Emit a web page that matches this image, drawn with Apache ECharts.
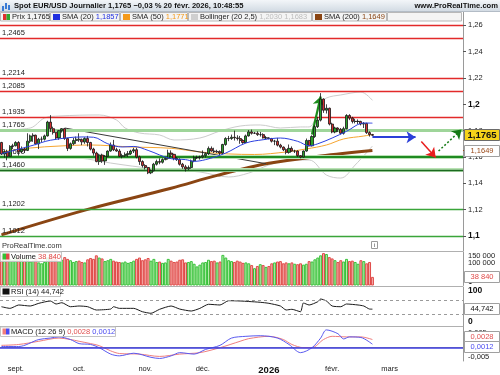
<!DOCTYPE html>
<html><head><meta charset="utf-8">
<script src="https://cdn.jsdelivr.net/npm/echarts@6.0.0/dist/echarts.min.js"></script>
<style>html,body{margin:0;padding:0;background:#fff;overflow:hidden}#c{width:500px;height:375px}</style>
</head><body><div id="c"></div>
<script>
// ================= DATA =================
// daily candles [open, close, low, high], 25 Aug 2025 -> 20 Feb 2026
const ohlc = [
[1.1710,1.1622,1.1615,1.1715],[1.1622,1.1640,1.1595,1.1650],[1.1640,1.1605,1.1575,1.1655],[1.1605,1.1680,1.1600,1.1690],[1.1680,1.1685,1.1660,1.1700],
[1.1685,1.1710,1.1680,1.1720],[1.1710,1.1640,1.1610,1.1720],[1.1640,1.1660,1.1630,1.1680],[1.1660,1.1650,1.1630,1.1670],[1.1650,1.1720,1.1645,1.1780],
[1.1720,1.1760,1.1705,1.1770],[1.1760,1.1765,1.1715,1.1780],[1.1765,1.1700,1.1690,1.1770],[1.1700,1.1735,1.1660,1.1745],[1.1735,1.1735,1.1710,1.1755],
[1.1735,1.1760,1.1725,1.1770],[1.1760,1.1865,1.1755,1.1875],[1.1865,1.1815,1.1790,1.1918],[1.1815,1.1785,1.1770,1.1830],[1.1785,1.1745,1.1730,1.1790],
[1.1745,1.1800,1.1730,1.1805],[1.1800,1.1815,1.1785,1.1820],[1.1815,1.1740,1.1730,1.1820],[1.1740,1.1665,1.1645,1.1745],[1.1665,1.1700,1.1655,1.1710],
[1.1700,1.1725,1.1690,1.1745],[1.1725,1.1735,1.1700,1.1755],
[1.1735,1.1730,1.1715,1.1780],[1.1730,1.1715,1.1690,1.1740],[1.1715,1.1740,1.1700,1.1750],[1.1740,1.1710,1.1680,1.1760],[1.1710,1.1660,1.1650,1.1715],
[1.1660,1.1630,1.1610,1.1670],[1.1630,1.1565,1.1560,1.1640],[1.1565,1.1615,1.1540,1.1625],[1.1615,1.1570,1.1555,1.1625],[1.1570,1.1605,1.1540,1.1615],
[1.1605,1.1645,1.1600,1.1650],[1.1645,1.1690,1.1640,1.1710],[1.1690,1.1655,1.1645,1.1730],[1.1655,1.1645,1.1640,1.1670],[1.1645,1.1605,1.1600,1.1660],
[1.1605,1.1610,1.1590,1.1625],[1.1610,1.1620,1.1600,1.1635],[1.1620,1.1625,1.1600,1.1645],[1.1625,1.1645,1.1615,1.1655],[1.1645,1.1655,1.1630,1.1670],
[1.1655,1.1600,1.1590,1.1670],[1.1600,1.1565,1.1540,1.1610],[1.1565,1.1535,1.1520,1.1575],
[1.1535,1.1520,1.1505,1.1545],[1.1520,1.1480,1.1470,1.1525],[1.1480,1.1495,1.1470,1.1505],[1.1495,1.1545,1.1490,1.1555],[1.1545,1.1565,1.1535,1.1580],
[1.1565,1.1560,1.1545,1.1590],[1.1560,1.1580,1.1550,1.1590],[1.1580,1.1590,1.1575,1.1600],[1.1590,1.1630,1.1580,1.1655],[1.1630,1.1620,1.1600,1.1650],
[1.1620,1.1590,1.1575,1.1625],[1.1590,1.1580,1.1570,1.1600],[1.1580,1.1545,1.1535,1.1590],[1.1545,1.1525,1.1510,1.1555],[1.1525,1.1510,1.1490,1.1540],
[1.1510,1.1520,1.1500,1.1535],[1.1520,1.1570,1.1510,1.1580],[1.1570,1.1595,1.1560,1.1610],[1.1595,1.1595,1.1585,1.1610],[1.1595,1.1600,1.1580,1.1610],
[1.1600,1.1610,1.1590,1.1650],[1.1610,1.1625,1.1595,1.1635],[1.1625,1.1665,1.1615,1.1680],[1.1665,1.1645,1.1640,1.1680],[1.1645,1.1640,1.1630,1.1670],
[1.1640,1.1640,1.1630,1.1655],[1.1640,1.1630,1.1615,1.1650],[1.1630,1.1695,1.1620,1.1700],[1.1695,1.1740,1.1685,1.1750],[1.1740,1.1740,1.1720,1.1760],
[1.1740,1.1750,1.1730,1.1770],[1.1750,1.1745,1.1725,1.1800],[1.1745,1.1740,1.1725,1.1765],[1.1740,1.1725,1.1700,1.1760],[1.1725,1.1710,1.1700,1.1735],
[1.1710,1.1760,1.1705,1.1770],[1.1760,1.1790,1.1755,1.1805],[1.1790,1.1780,1.1770,1.1808],[1.1780,1.1780,1.1775,1.1790],[1.1780,1.1770,1.1760,1.1795],
[1.1770,1.1770,1.1755,1.1790],[1.1770,1.1745,1.1740,1.1780],[1.1745,1.1745,1.1735,1.1760],
[1.1745,1.1740,1.1735,1.1750],[1.1740,1.1720,1.1710,1.1745],[1.1720,1.1720,1.1690,1.1730],[1.1720,1.1690,1.1680,1.1745],[1.1690,1.1675,1.1665,1.1700],
[1.1675,1.1655,1.1645,1.1680],[1.1655,1.1635,1.1620,1.1665],[1.1635,1.1665,1.1625,1.1695],[1.1665,1.1645,1.1640,1.1680],[1.1645,1.1645,1.1630,1.1655],
[1.1645,1.1610,1.1600,1.1650],[1.1610,1.1600,1.1590,1.1615],[1.1600,1.1645,1.1595,1.1650],[1.1645,1.1725,1.1640,1.1740],[1.1725,1.1685,1.1680,1.1730],
[1.1685,1.1755,1.1680,1.1765],[1.1755,1.1830,1.1745,1.1840],[1.1830,1.1880,1.1820,1.1905],[1.1880,1.2040,1.1870,1.2085],[1.2040,1.1955,1.1935,1.2045],
[1.1955,1.1970,1.1930,1.2000],[1.1970,1.1850,1.1840,1.1975],
[1.1850,1.1790,1.1780,1.1860],[1.1790,1.1820,1.1780,1.1830],[1.1820,1.1810,1.1790,1.1825],[1.1810,1.1780,1.1770,1.1820],[1.1780,1.1815,1.1770,1.1830],
[1.1815,1.1915,1.1810,1.1925],[1.1915,1.1895,1.1880,1.1925],[1.1895,1.1870,1.1855,1.1905],[1.1870,1.1870,1.1855,1.1890],[1.1870,1.1870,1.1850,1.1885],
[1.1870,1.1850,1.1840,1.1875],[1.1850,1.1855,1.1820,1.1865],[1.1855,1.1785,1.1775,1.1860],[1.1785,1.1770,1.1755,1.1795],[1.1770,1.1765,1.1760,1.1775]
];
// volume (units)
const volume = [
135000,124000,130000,118000,114000,
128000,134000,118000,112000,126000,108000,112000,120000,104000,100000,106000,126000,142000,132000,118000,110000,116000,128000,120000,114000,106000,110000,
112000,106000,104000,118000,124000,120000,136000,126000,122000,110000,114000,120000,112000,108000,106000,104000,108000,102000,106000,112000,120000,126000,114000,
118000,124000,112000,120000,106000,108000,102000,104000,120000,112000,106000,108000,116000,118000,104000,106000,110000,98000,86000,94000,
104000,106000,116000,110000,112000,104000,108000,138000,126000,114000,110000,106000,112000,108000,102000,104000,100000,92000,78000,88000,96000,92000,84000,
88000,100000,104000,108000,110000,100000,104000,100000,104000,98000,96000,100000,94000,98000,110000,108000,118000,126000,136000,146000,142000,128000,
122000,114000,106000,114000,108000,120000,110000,112000,106000,98000,114000,110000,100000,106000,38840
];
// indicator lines: [bar index, value]
const sma20 = [[0,1.1625],[11,1.1689],[17,1.1727],[28,1.1752],[32,1.1750],[37,1.1700],[42,1.1676],[46,1.1680],[51,1.1650],[59,1.1587],[64,1.1580],[67,1.1567],[71,1.1580],[78,1.1630],[85,1.1706],[91,1.1731],[97,1.1744],[103,1.1719],[107,1.1685],[110,1.1700],[115,1.1744],[120,1.1795],[126,1.1858],[129,1.1857]];
const sma50 = [[0,1.1638],[10,1.1668],[20,1.1683],[31,1.1691],[45,1.1676],[59,1.1666],[69,1.1638],[79,1.1623],[88,1.1619],[99,1.1638],[106,1.1661],[113,1.1691],[119,1.1737],[126,1.1759],[129,1.1771]];
const sma200 = [[0,1.1008],[30,1.1202],[59,1.1362],[75,1.1460],[93,1.1552],[111,1.1607],[129,1.1649]];
const bollUpper = [[0,1.1805],[10,1.1820],[15,1.1896],[20,1.1911],[34,1.1919],[40,1.1881],[43,1.1820],[48,1.1782],[55,1.1767],[60,1.1729],[69,1.1744],[76,1.1797],[83,1.1835],[90,1.1843],[97,1.1820],[104,1.1828],[107,1.1828],[111,1.2000],[113,1.2048],[118,1.2071],[125,1.2093],[129,1.2030]];
const bollLower = [[0,1.1615],[13,1.1600],[27,1.1592],[38,1.1554],[48,1.1524],[59,1.1501],[69,1.1486],[79,1.1448],[86,1.1478],[93,1.1539],[100,1.1577],[107,1.1577],[113,1.1463],[118,1.1440],[123,1.1539],[129,1.1683]];
const trendLine = [[22,1.1820],[92,1.1549]];
const rsi = [[0,51.7],[3,47],[6,56.6],[10,53.7],[13,61.4],[17,68],[19,59.4],[21,63.1],[24,51.7],[27,53.7],[30,51.7],[33,42.3],[38,45],[39,51.7],[41,47],[46,47],[49,37.4],[52,32.9],[55,44.3],[59,53.7],[62,45],[66,39.4],[69,47],[72,58.6],[76,56.6],[79,68.9],[83,68],[86,66.6],[90,64.3],[93,61.4],[97,53.7],[99,42.3],[101,44.3],[104,37.4],[105,62.3],[107,56.6],[110,66],[111,73.7],[113,68],[115,53.7],[118,51.7],[120,59.4],[124,56.6],[126,53.7],[128,45],[129,44.742]];
const macdLine = [[0,0.0004],[6,0.0004],[13,0.0028],[17,0.0033],[20,0.0037],[24,0.0028],[27,0.0014],[31,0.0011],[34,0],[38,-0.0022],[41,-0.0028],[46,-0.0019],[52,-0.0033],[55,-0.0037],[59,-0.0028],[62,-0.0017],[67,-0.0022],[71,-0.0006],[76,0.0008],[80,0.0033],[85,0.0039],[90,0.0041],[96,0.0033],[100,0.0011],[104,-0.0017],[108,0],[111,0.0033],[113,0.0061],[117,0.0048],[119,0.0030],[121,0.0037],[125,0.0035],[129,0.0012]];
const macdSignal = [[0,0.0008],[6,0.0011],[13,0.0022],[20,0.0033],[24,0.0028],[27,0.0022],[31,0.0014],[34,0.0007],[38,-0.0011],[41,-0.0020],[48,-0.0022],[55,-0.0030],[62,-0.0022],[69,-0.0017],[76,0],[83,0.0022],[86,0.0031],[93,0.0039],[98,0.0028],[101,0.0011],[105,0],[108,0],[112,0.0028],[115,0.0039],[120,0.0037],[125,0.0037],[129,0.0028]];
// drawn annotations: [bar index, price]
const arrowBlue = [[129,1.1750],[144,1.1750]];
const arrowRed = [[146,1.1718],[151,1.1596]];
const arrowGreen = [[152,1.1645],[160,1.1809]];
const arrowPeak = [[108,1.1770],[111,1.2060]];
// horizontal levels
const redLevels = [1.2620,1.2465,1.2214,1.2085,1.1935];
const greenLevels = [1.1765,1.1600,1.1460,1.1202,1.1012];
const greenKinds = ['light','dark','dark2','mid','mid'];
// axes
const priceTicks = [1.1,1.12,1.14,1.16,1.18,1.2,1.22,1.24,1.26];
const volTicks = [0,100000,150000];
const rsiTicks = [0,100];
const rsiBands = [30,70];
const macdTicks = [-0.005,0.005];
const monthLabels = ['sept.','oct.','nov.','déc.','2026','févr.','mars'];
const lastValues = {price:1.1765, sma20:1.1857, sma50:1.1771, bollUp:1.2030, bollLow:1.1683, sma200:1.1649, volume:38840, rsi:44.742, macd:0.0012, signal:0.0028};

// ================= BUILD =================
const NSLOT = 161;
const dates = [];
{ let d = new Date(Date.UTC(2025,7,25));
  while (dates.length < NSLOT) { const w = d.getUTCDay(); if (w > 0 && w < 6) dates.push(d.toISOString().slice(0,10)); d.setUTCDate(d.getUTCDate()+1); } }
const monthIdx = [];
for (let i = 1; i < dates.length; i++) if (dates[i].slice(5,7) !== dates[i-1].slice(5,7)) monthIdx.push(i);

const FONT = "'Liberation Sans',Arial,sans-serif";
const FS = 7.5;
const fr = (v, n) => v.toFixed(n).replace('.', ',');
const spaced = v => String(Math.round(v)).replace(/\B(?=(\d{3})+(?!\d))/g, ' ');

const G = [
  {left:0, top:12, width:463, height:239},
  {left:0, top:252, width:463, height:33.5},
  {left:0, top:287, width:463, height:39},
  {left:0, top:326.5, width:463, height:35.5}
];
const Y = [
  {min:1.0886, max:1.2701},
  {min:0, max:151000},
  {min:-3.4, max:108},
  {min:-0.004567, max:0.007267}
];
function clampTicks(vals, gi, half) {
  const g = G[gi], y = Y[gi], ppu = g.height / (y.max - y.min);
  const lo = y.min + half / ppu, hi = y.max - half / ppu;
  return vals.map(v => ({pos: Math.min(hi, Math.max(lo, v)), v}));
}
const volT = clampTicks(volTicks, 1, 3.5), rsiT = clampTicks(rsiTicks, 2, 4), macdT = clampTicks(macdTicks, 3, 4.5);
function labelFor(list, val, fmt) { let best = list[0]; list.forEach(t => { if (Math.abs(t.pos - val) < Math.abs(best.pos - val)) best = t; }); return fmt(best.v); }

const xAxes = G.map((g, i) => ({
  type:'category', gridIndex:i, data:dates, boundaryGap:true,
  axisLine:{show:i===3, lineStyle:{color:'#9a9a9a'}},
  axisTick:{show:false},
  axisLabel: i===3 ? {
    show:true, interval:(idx) => monthIdx.includes(idx), margin:4, hideOverlap:false,
    formatter:(v, idx) => { const k = monthIdx.indexOf(idx); const t = monthLabels[k] || ''; return t === '2026' ? '{b|' + t + '}' : t; },
    color:'#222', fontSize:FS, fontFamily:FONT,
    rich:{b:{fontWeight:'bold', fontSize:9.5, fontFamily:FONT, color:'#111'}}
  } : {show:false},
  splitLine:{show:false}
}));
const axisBase = {position:'right', splitLine:{show:false}, axisLine:{show:true, lineStyle:{color:'#9a9a9a'}}};
const yAxes = [
  Object.assign({}, axisBase, {type:'value', gridIndex:0, min:Y[0].min, max:Y[0].max,
    axisTick:{show:true, length:3, customValues:priceTicks, lineStyle:{color:'#555'}},
    axisLabel:{customValues:priceTicks, margin:5, fontSize:FS, fontFamily:FONT, color:'#222', hideOverlap:false,
      formatter:v => { const s = String(+v.toFixed(2)).replace('.', ','); return (Math.abs(v*10 - Math.round(v*10)) < 1e-6) ? '{b|' + s + '}' : s; },
      rich:{b:{fontWeight:'bold', fontSize:8.5, fontFamily:FONT, color:'#111'}}}}),
  Object.assign({}, axisBase, {type:'value', gridIndex:1, min:Y[1].min, max:Y[1].max,
    axisTick:{show:false},
    axisLabel:{customValues:volT.map(t=>t.pos), margin:5, fontSize:FS, fontFamily:FONT, color:'#222', hideOverlap:false,
      formatter:v => labelFor(volT, v, x => x === 0 ? '{b|0}' : spaced(x)), rich:{b:{fontWeight:'bold', fontSize:8.5}}}}),
  Object.assign({}, axisBase, {type:'value', gridIndex:2, min:Y[2].min, max:Y[2].max,
    axisTick:{show:false},
    axisLabel:{customValues:rsiT.map(t=>t.pos), margin:5, fontSize:8.5, fontWeight:'bold', fontFamily:FONT, color:'#111', hideOverlap:false,
      formatter:v => labelFor(rsiT, v, x => String(x))}}),
  Object.assign({}, axisBase, {type:'value', gridIndex:3, min:Y[3].min, max:Y[3].max,
    axisTick:{show:false},
    axisLabel:{customValues:macdT.map(t=>t.pos), margin:5, fontSize:FS, fontFamily:FONT, color:'#222', hideOverlap:false,
      formatter:v => labelFor(macdT, v, x => fr(x, 3))}})
];

const levelLabel = {show:true, position:'insideStartTop', distance:[2,1.5], color:'#222', fontSize:FS, fontFamily:FONT};
const levelData = [];
redLevels.forEach((v, i) => levelData.push({yAxis:v, lineStyle:{color:'#e22a2a', width:1.4, type:'solid'},
  label: i === 0 ? {show:false} : Object.assign({}, levelLabel, {formatter: fr(v,4)})}));
greenLevels.forEach((v, i) => {
  const k = greenKinds[i];
  if (k === 'dark' || k === 'dark2') levelData.push({yAxis:v, lineStyle:{color:'#b9e2b4', width:4, type:'solid'}, label:{show:false}});
  const st = k === 'light' ? {color:'#9fd59a', width:3} : k === 'dark' ? {color:'#1f8a22', width:2} : k === 'dark2' ? {color:'#1b6a1f', width:1.4} : {color:'#3aa53a', width:1.4};
  levelData.push({yAxis:v, lineStyle:Object.assign({type:'solid'}, st), label:Object.assign({}, levelLabel, {formatter: fr(v,4)})});
});

const lineS = (data, color, width, z, extra) => Object.assign({type:'line', xAxisIndex:0, yAxisIndex:0, data, smooth:0.35, symbol:'none', silent:true, z,
  lineStyle:{color, width}}, extra || {});
const arrowML = (pts, color, width, type, size) => ({silent:true, symbol:['none','arrow'], symbolSize:size, animation:false,
  lineStyle:{color, width, type}, itemStyle:{color}, label:{show:false}, data:[[{coord:pts[0]},{coord:pts[1]}]]});

const volData = volume.map((v, i) => {
  const up = ohlc[i][1] >= ohlc[i][0];
  return {value:v, itemStyle: up ? {color:'#b6ecae', borderColor:'#38c23a'} : {color:'#f5b0ad', borderColor:'#e04a48'}};
});

const series = [
  {type:'line', name:'levels', xAxisIndex:0, yAxisIndex:0, data:[], z:1, silent:true,
    markLine:{silent:true, symbol:'none', animation:false, data:levelData}},
  lineS(bollUpper, '#cccccc', 1, 2),
  lineS(bollLower, '#cccccc', 1, 2),
  lineS(sma200, '#8a4513', 3, 3),
  lineS(sma50, '#f6a530', 1, 3),
  lineS(trendLine, '#3a3a3a', 1, 3, {smooth:false}),
  {type:'candlestick', xAxisIndex:0, yAxisIndex:0, data:ohlc, z:5, barWidth:2.6, silent:true,
    itemStyle:{color:'#2aa02a', color0:'#d43030', borderColor:'#151515', borderColor0:'#151515', borderWidth:0.8}},
  lineS(sma20, '#2b3fe0', 1, 6),
  {type:'line', xAxisIndex:0, yAxisIndex:0, data:[], z:7, silent:true, markLine:arrowML(arrowBlue, '#2b3fd8', 2, 'solid', 9)},
  {type:'line', xAxisIndex:0, yAxisIndex:0, data:[], z:7, silent:true, markLine:arrowML(arrowRed, '#e81e1e', 1.5, 'solid', 9)},
  {type:'line', xAxisIndex:0, yAxisIndex:0, data:[], z:7, silent:true, markLine:arrowML(arrowGreen, '#157a15', 1.5, [2,2], 9)},
  {type:'line', xAxisIndex:0, yAxisIndex:0, data:[], z:7, silent:true, markLine:arrowML(arrowPeak, '#1a8c1a', 2.2, 'solid', 9)},
  {type:'bar', xAxisIndex:1, yAxisIndex:1, data:volData, barWidth:3, silent:true, itemStyle:{borderWidth:1}},
  {type:'line', xAxisIndex:2, yAxisIndex:2, data:rsi, smooth:0.2, symbol:'none', silent:true, lineStyle:{color:'#1a1a1a', width:1},
    markLine:{silent:true, symbol:'none', animation:false, label:{show:false}, lineStyle:{color:'#9a9a9a', type:[3,3], width:1}, data:rsiBands.map(v=>({yAxis:v}))}},
  {type:'line', xAxisIndex:3, yAxisIndex:3, data:macdSignal, smooth:0.3, symbol:'none', silent:true, lineStyle:{color:'#ef7e7e', width:1}, z:3,
    markLine:{silent:true, symbol:'none', animation:false, label:{show:false}, lineStyle:{color:'#3c3ce0', type:'solid', width:1.5}, data:[{yAxis:0}]}},
  {type:'line', xAxisIndex:3, yAxisIndex:3, data:macdLine, smooth:0.3, symbol:'none', silent:true, lineStyle:{color:'#5a5af0', width:1}, z:4}
];

const chart = echarts.init(document.getElementById('c'), null, {renderer:'canvas'});
chart.setOption({animation:false, backgroundColor:'#ffffff', grid:G, xAxis:xAxes, yAxis:yAxes, series});

// ================= HEADER / PANEL LABELS / VALUE BOXES =================
const gfx = [];
const txt = (x, y, text, font, fill, align) => ({type:'text', z:100, silent:true, x, y,
  style:{text, font, fill, textAlign:align || 'left', textVerticalAlign:'middle'}});
gfx.push({type:'rect', z:99, silent:true, shape:{x:0, y:0, width:500, height:12},
  style:{fill:new echarts.graphic.LinearGradient(0,0,0,1,[{offset:0,color:'#f3f6f9'},{offset:1,color:'#d0d9e2'}])}});
gfx.push({type:'line', z:99, silent:true, shape:{x1:0, y1:11.5, x2:500, y2:11.5}, style:{stroke:'#b3bcc6', lineWidth:1}});
[[2,6,3],[5,3,4],[8,5,3]].forEach(b => gfx.push({type:'rect', z:100, silent:true, shape:{x:b[0], y:b[1], width:2, height:b[2]+2}, style:{fill:'#3a7bd5'}}));
gfx.push(txt(14, 6, 'Spot EUR/USD Journalier ' + fr(lastValues.price,4) + ' \u22120,03 % 20 févr. 2026, 10:48:55', 'bold 7.6px ' + FONT, '#111'));
gfx.push(txt(498, 6, 'www.ProRealTime.com', 'bold 7.6px ' + FONT, '#111', 'right'));
const legendItems = [
  {x0:0, x1:50, sq:['#e03030','#2fa82f'], name:'Prix ', val:fr(lastValues.price,4), vc:'#111'},
  {x0:50, x1:120, sq:['#1f2fe0'], name:'SMA (20) ', val:fr(lastValues.sma20,4), vc:'#1f2fe0'},
  {x0:120, x1:188, sq:['#f59a1a'], name:'SMA (50) ', val:fr(lastValues.sma50,4), vc:'#f59a1a'},
  {x0:188, x1:312, sq:['#cfcfcf'], name:'Bollinger (20 2,5) ', val:fr(lastValues.bollUp,4) + ' ' + fr(lastValues.bollLow,4), vc:'#bdbdbd'},
  {x0:312, x1:387, sq:['#8a4513'], name:'SMA (200) ', val:fr(lastValues.sma200,4), vc:'#8a4513'},
  {x0:387, x1:462, sq:[], name:'', val:'', vc:'#111'}
];
legendItems.forEach(it => {
  gfx.push({type:'rect', z:99, silent:true, shape:{x:it.x0+0.5, y:12.5, width:it.x1-it.x0-1, height:8.5}, style:{fill:'#f4f4f4', stroke:'#b8b8b8', lineWidth:1}});
  it.sq.forEach((c, k) => gfx.push({type:'rect', z:100, silent:true, shape:{x:it.x0+3+k*3.5, y:14, width:7/it.sq.length, height:6}, style:{fill:c}}));
  if (it.name) gfx.push({type:'text', z:100, silent:true, x:it.x0+12, y:17, style:{text:'{n|' + it.name + '}{v|' + it.val + '}', textVerticalAlign:'middle',
    rich:{n:{font:FS + 'px ' + FONT, fill:'#222'}, v:{font:FS + 'px ' + FONT, fill:it.vc}}}});
});
gfx.push(txt(2, 246, 'ProRealTime.com', FS + 'px ' + FONT, '#333'));
gfx.push({type:'rect', z:100, silent:true, shape:{x:371.5, y:241.5, width:6, height:7}, style:{fill:'#fff', stroke:'#9a9a9a', lineWidth:1}});
gfx.push(txt(374.5, 245.2, 'i', 'bold 6px ' + FONT, '#888', 'center'));
[251.5, 286.5, 326.5].forEach(y => gfx.push({type:'line', z:50, silent:true, shape:{x1:0, y1:y, x2:463, y2:y}, style:{stroke:'#b0b0b0', lineWidth:1}}));
function panelTitle(x1, y, sq, parts) {
  gfx.push({type:'rect', z:99, silent:true, shape:{x:0.5, y:y-4.5, width:x1, height:9.5}, style:{fill:'rgba(255,255,255,0.85)', stroke:'#c4c4c4', lineWidth:1}});
  sq.forEach((c, k) => gfx.push({type:'rect', z:100, silent:true, shape:{x:2.5+k*3.5, y:y-3, width:7/sq.length, height:6}, style:{fill:c}}));
  const rich = {}; let t = '';
  parts.forEach((p, k) => { rich['p'+k] = {font:FS + 'px ' + FONT, fill:p[1]}; t += '{p'+k+'|' + p[0] + '}'; });
  gfx.push({type:'text', z:100, silent:true, x:11, y:y+0.3, style:{text:t, rich, textVerticalAlign:'middle'}});
}
panelTitle(61, 256.5, ['#34c034','#e04a48'], [['Volume ', '#111'], [spaced(lastValues.volume), '#e04a48']]);
panelTitle(60, 291.5, ['#111'], [['RSI (14) ', '#111'], [fr(lastValues.rsi,3), '#111']]);
panelTitle(115, 331.5, ['#ef7e7e','#4a4af0'], [['MACD (12 26 9) ', '#111'], [fr(lastValues.signal,4), '#e05050'], [' ', '#111'], [fr(lastValues.macd,4), '#4a4af0']]);

const py = (ai, v) => chart.convertToPixel({yAxisIndex:ai}, v);
const boxes = [
  {y:py(0, lastValues.price), text:fr(lastValues.price,4), fill:'#f6d31a', stroke:'#6b6b6b', color:'#111', bold:true},
  {y:py(0, lastValues.sma200), text:fr(lastValues.sma200,4), fill:'#ffffff', stroke:'#a0a0a0', color:'#9a4a1a'},
  {y:py(1, lastValues.volume), text:spaced(lastValues.volume), fill:'#ffffff', stroke:'#a0a0a0', color:'#e04a48'},
  {y:py(2, lastValues.rsi), text:fr(lastValues.rsi,3), fill:'#ffffff', stroke:'#a0a0a0', color:'#111'},
  {y:py(3, lastValues.signal), text:fr(lastValues.signal,4), fill:'#ffffff', stroke:'#a0a0a0', color:'#e05050'},
  {y:py(3, lastValues.macd), text:fr(lastValues.macd,4), fill:'#ffffff', stroke:'#a0a0a0', color:'#4a4af0'}
];
{ const a = boxes[4], b = boxes[5]; const gap = 10; if (Math.abs(a.y - b.y) < gap) { const m = (a.y + b.y) / 2; const s = a.y <= b.y ? -1 : 1; a.y = m + s*gap/2; b.y = m - s*gap/2; } }
gfx.push({type:'line', z:100, silent:true, shape:{x1:463, y1:boxes[1].y, x2:466, y2:boxes[1].y}, style:{stroke:'#9a4a1a', lineWidth:1}});
boxes.forEach(bx => {
  gfx.push({type:'rect', z:100, silent:true, shape:{x:464.5, y:Math.round(bx.y)-5.5, width:35, height:11}, style:{fill:bx.fill, stroke:bx.stroke, lineWidth:1}});
  gfx.push(txt(482, Math.round(bx.y)+0.3, bx.text, (bx.bold ? 'bold 9.5px ' : FS + 'px ') + FONT, bx.color, 'center'));
});
chart.setOption({graphic:{elements:gfx}});
</script></body></html>
